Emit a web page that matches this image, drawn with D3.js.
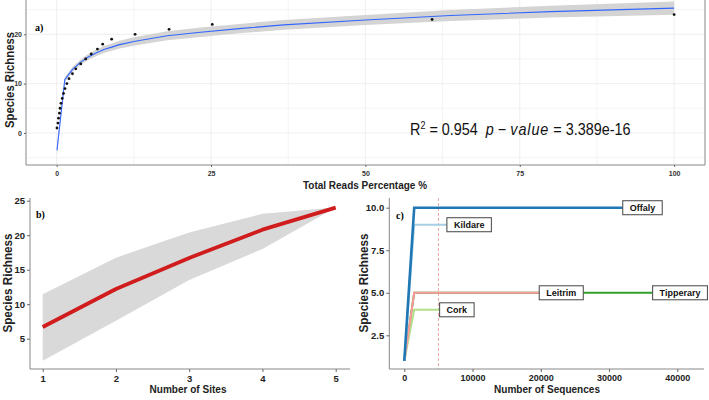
<!DOCTYPE html>
<html>
<head>
<meta charset="utf-8">
<script src="https://cdn.jsdelivr.net/npm/d3@7"></script>
<style>
  body { margin: 0; background: #fff; }
  text { font-family: "Liberation Sans", Arial, sans-serif; }
  .tag { font-family: "Liberation Serif", "Times New Roman", serif; font-weight: bold; }
</style>
</head>
<body>
<script>
// panel a: species richness vs percentage of reads
const readsPct = [0.05, 0.2, 0.3, 0.45, 0.55, 0.7, 0.9, 1.1, 1.35, 1.65, 2.0, 2.55, 3.1, 3.9, 4.7, 5.6, 6.6, 7.45, 8.9, 12.7, 18.2, 25.2, 60.8, 100]
const readsRich = [1, 2, 3, 4, 5, 6, 7, 8, 9, 10, 11, 12, 13, 14, 15, 16, 17, 18, 19, 20, 21, 22, 23, 24]
// fitted log curve + band half width
const fitX = [0.05, 1.315, 2.58, 3.85, 5.11, 6.38, 7.64, 8.91, 10.17, 12.7, 17.9, 23.3, 30, 36.8, 50, 63.8, 80, 100]
const fitY = [-3.5, 10.8, 12.9, 14.3, 15.4, 16.2, 16.9, 17.4, 17.9, 18.6, 19.7, 20.4, 21.2, 21.9, 22.9, 23.8, 24.6, 25.3]
const fitSe = [1.0, 0.5, 0.5, 0.55, 0.6, 0.65, 0.7, 0.75, 0.8, 0.85, 0.9, 0.95, 0.95, 1.0, 1.0, 1.1, 1.2, 1.35]
const aXTicks = [0, 25, 50, 75, 100]
const aYTicks = [0, 10, 20]

// panel b: accumulation by sites
const sites = [1, 2, 3, 4, 5]
const siteRich = [6.7, 12.2, 16.7, 20.8, 24]
const siteLow = [1.8, 7.6, 13.5, 18.0, 24]
const siteHigh = [11.45, 16.75, 20.4, 23.1, 24]

// panel c: rarefaction per county
const counties = ["Offaly", "Kildare", "Leitrim", "Tipperary", "Cork"]
const countyColors = ["#1f78b4", "#a6cee3", "#fb9a99", "#33a02c", "#b2df8a"]
const countyRich = [10, 9, 5, 5, 4]
const countyKink = [1450, 1450, 1450, 1450, 1450]
const countyEnd = [34900, 9500, 23000, 40400, 7700]
const cutoff = 5000

const svg = d3.select("body").append("svg")
    .attr("width", 709).attr("height", 400)
    .style("background", "#fff");

function styleAxis(g, size, color){
    g.select(".domain").remove();
    g.selectAll(".tick line").attr("stroke", "#666");
    g.selectAll(".tick text")
        .attr("fill", color)
        .style("font-size", size + "px")
        .style("font-weight", "bold");
}

// ---------- panel a ----------
const xA = d3.scaleLinear().domain([-5, 105]).range([25.8, 705]);
const yA = d3.scaleLinear().domain([-6.5, 26.95]).range([165, 0]);

const gA = svg.append("g");
// grid
[12.5, 37.5, 62.5, 87.5, 0, 25, 50, 75, 100].forEach(v => {
    gA.append("line").attr("x1", xA(v)).attr("x2", xA(v)).attr("y1", 0).attr("y2", 165)
        .attr("stroke", "#ebebeb").attr("stroke-width", v % 25 ? 0.5 : 0.8);
});
[-5, 5, 15, 25, 0, 10, 20].forEach(v => {
    gA.append("line").attr("x1", 26).attr("x2", 705).attr("y1", yA(v)).attr("y2", yA(v))
        .attr("stroke", "#ebebeb").attr("stroke-width", v % 10 ? 0.5 : 0.8);
});

const fitData = fitX.map((x, i) => ({x: x, y: fitY[i], se: fitSe[i]}));
gA.append("path").datum(fitData)
    .attr("fill", "#d4d4d4")
    .attr("d", d3.area().x(d => xA(d.x)).y0(d => yA(d.y - d.se)).y1(d => yA(d.y + d.se)));
gA.append("path").datum(fitData)
    .attr("fill", "none").attr("stroke", "#3366ff").attr("stroke-width", 1.1)
    .attr("stroke-linejoin", "round")
    .attr("d", d3.line().x(d => xA(d.x)).y(d => yA(d.y)));

gA.selectAll(".pt").data(readsPct).enter().append("circle")
    .attr("class", "pt")
    .attr("cx", d => xA(d)).attr("cy", (d, i) => yA(readsRich[i]))
    .attr("r", 1.4).attr("fill", "#111");

// axis lines
gA.append("line").attr("x1", 26).attr("x2", 26).attr("y1", 0).attr("y2", 165).attr("stroke", "#888");
gA.append("line").attr("x1", 26).attr("x2", 705).attr("y1", 165).attr("y2", 165).attr("stroke", "#888");
gA.append("line").attr("x1", 705).attr("x2", 705).attr("y1", 0).attr("y2", 165).attr("stroke", "#888");

gA.append("g").attr("transform", "translate(0,165)")
    .call(d3.axisBottom(xA).tickValues(aXTicks).tickSize(2).tickPadding(4))
    .call(g => styleAxis(g, 7, "#333"));
gA.append("g").attr("transform", "translate(26,0)")
    .call(d3.axisLeft(yA).tickValues(aYTicks).tickSize(2).tickPadding(2))
    .call(g => styleAxis(g, 7, "#333"));

gA.append("text").attr("x", 365).attr("y", 189).attr("text-anchor", "middle")
    .attr("font-size", 11).attr("font-weight", "bold").attr("fill", "#222")
    .attr("textLength", 124).attr("lengthAdjust", "spacingAndGlyphs")
    .text("Total Reads Percentage %");
gA.append("text").attr("transform", "translate(14,80) rotate(-90)").attr("text-anchor", "middle")
    .attr("font-size", 12).attr("font-weight", "bold").attr("fill", "#222")
    .attr("textLength", 96).attr("lengthAdjust", "spacingAndGlyphs")
    .text("Species Richness");
gA.append("text").attr("class", "tag").attr("x", 35).attr("y", 31).attr("font-size", 10).text("a)");

// R squared note, squeezed a little like the original
const r2 = gA.append("text").attr("transform", "translate(410,135) scale(0.9,1)")
    .attr("font-size", 16).attr("fill", "#111");
r2.append("tspan").text("R");
r2.append("tspan").attr("dy", -6).attr("font-size", 10).text("2");
r2.append("tspan").attr("dy", 6).text(" = 0.954\u00a0\u00a0");
r2.append("tspan").attr("font-style", "italic").text("p");
r2.append("tspan").text("\u00a0\u2212\u00a0");
r2.append("tspan").attr("font-style", "italic").attr("letter-spacing", 1).text("value");
r2.append("tspan").text(" = 3.389e-16");

// ---------- panel b ----------
const xB = d3.scaleLinear().domain([1, 5]).range([42.7, 335.7]);
const yB = d3.scaleLinear().domain([5, 25]).range([338.7, 200.7]);
const gB = svg.append("g");
const siteData = sites.map((s, i) => ({x: s, y: siteRich[i], lo: siteLow[i], hi: siteHigh[i]}));

gB.append("path").datum(siteData).attr("fill", "#d9d9d9")
    .attr("d", d3.area().x(d => xB(d.x)).y0(d => yB(d.lo)).y1(d => yB(d.hi)));
gB.append("path").datum(siteData).attr("fill", "none")
    .attr("stroke", "#d01c1c").attr("stroke-width", 3.8).attr("stroke-linejoin", "round")
    .attr("d", d3.line().x(d => xB(d.x)).y(d => yB(d.y)));

gB.append("line").attr("x1", 30).attr("x2", 30).attr("y1", 198).attr("y2", 369).attr("stroke", "#888");
gB.append("line").attr("x1", 30).attr("x2", 350).attr("y1", 369).attr("y2", 369).attr("stroke", "#888");
gB.append("g").attr("transform", "translate(0,369)")
    .call(d3.axisBottom(xB).tickValues(sites).tickFormat(d3.format("d")).tickSize(3).tickPadding(3))
    .call(g => styleAxis(g, 9.5, "#222"));
gB.append("g").attr("transform", "translate(30,0)")
    .call(d3.axisLeft(yB).tickValues([5, 10, 15, 20, 25]).tickSize(3).tickPadding(2))
    .call(g => styleAxis(g, 9.5, "#222"));

gB.append("text").attr("x", 188).attr("y", 393).attr("text-anchor", "middle")
    .attr("font-size", 11.5).attr("font-weight", "bold").attr("fill", "#222")
    .attr("textLength", 77).attr("lengthAdjust", "spacingAndGlyphs")
    .text("Number of Sites");
gB.append("text").attr("transform", "translate(12,283) rotate(-90)").attr("text-anchor", "middle")
    .attr("font-size", 12).attr("font-weight", "bold").attr("fill", "#222")
    .attr("textLength", 99).attr("lengthAdjust", "spacingAndGlyphs")
    .text("Species Richness");
gB.append("text").attr("class", "tag").attr("x", 36).attr("y", 218).attr("font-size", 10).text("b)");

// ---------- panel c ----------
const xC = d3.scaleLinear().domain([0, 40000]).range([404.3, 677.3]);
const yC = d3.scaleLinear().domain([2.5, 10]).range([335.3, 207.7]);
const gC = svg.append("g");

gC.append("line").attr("x1", xC(cutoff)).attr("x2", xC(cutoff)).attr("y1", 198).attr("y2", 369)
    .attr("stroke", "#eb9a9a").attr("stroke-width", 0.9).attr("stroke-dasharray", "3,2");

// draw Tipperary first so the others sit over it
const order = [3, 4, 2, 1, 0];
const curveLine = d3.line().x(d => xC(d[0])).y(d => yC(d[1]));
order.forEach(i => {
    const pts = [[0, 1], [countyKink[i], countyRich[i]], [countyEnd[i], countyRich[i]]];
    gC.append("path").datum(pts).attr("fill", "none")
        .attr("stroke", countyColors[i]).attr("stroke-width", i === 0 ? 2.6 : 2)
        .attr("d", curveLine);
});

counties.forEach((name, i) => {
    const lg = gC.append("g").attr("transform", `translate(${xC(countyEnd[i])},${yC(countyRich[i])})`);
    const box = lg.append("rect").attr("fill", "#fff").attr("stroke", "#555").attr("stroke-width", 1.1);
    const t = lg.append("text").attr("text-anchor", "middle").attr("dy", "0.35em")
        .attr("font-size", 9).attr("font-weight", "bold").attr("fill", "#111").text(name);
    const w = t.node().getComputedTextLength() + 14;
    box.attr("x", -w / 2).attr("y", -7).attr("width", w).attr("height", 14);
});

gC.append("line").attr("x1", 389.3).attr("x2", 389.3).attr("y1", 198).attr("y2", 369).attr("stroke", "#888");
gC.append("line").attr("x1", 389.3).attr("x2", 704).attr("y1", 369).attr("y2", 369).attr("stroke", "#888");
gC.append("g").attr("transform", "translate(0,369)")
    .call(d3.axisBottom(xC).tickValues([0, 10000, 20000, 30000, 40000]).tickFormat(d3.format("d")).tickSize(3).tickPadding(3))
    .call(g => styleAxis(g, 9, "#222"));
gC.append("g").attr("transform", "translate(389.3,0)")
    .call(d3.axisLeft(yC).tickValues([2.5, 5, 7.5, 10]).tickFormat(d3.format(".1f")).tickSize(3).tickPadding(2))
    .call(g => styleAxis(g, 9.5, "#222"));

gC.append("text").attr("x", 547).attr("y", 393).attr("text-anchor", "middle")
    .attr("font-size", 11.5).attr("font-weight", "bold").attr("fill", "#222")
    .attr("textLength", 106).attr("lengthAdjust", "spacingAndGlyphs")
    .text("Number of Sequences");
gC.append("text").attr("transform", "translate(368,283) rotate(-90)").attr("text-anchor", "middle")
    .attr("font-size", 12).attr("font-weight", "bold").attr("fill", "#222")
    .attr("textLength", 99).attr("lengthAdjust", "spacingAndGlyphs")
    .text("Species Richness");
gC.append("text").attr("class", "tag").attr("x", 396).attr("y", 219).attr("font-size", 10).text("c)");
</script>
</body>
</html>
